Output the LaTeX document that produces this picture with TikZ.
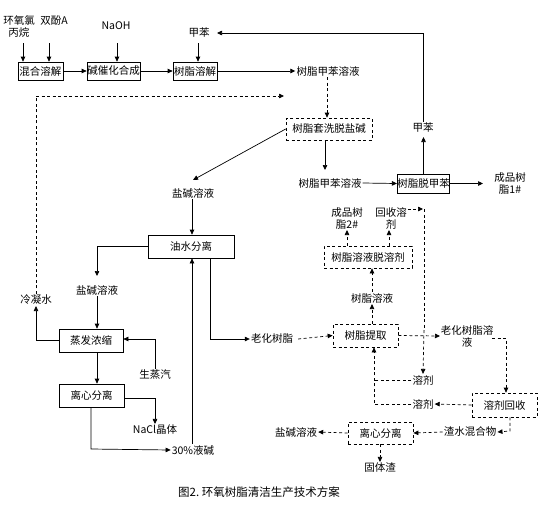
\documentclass[tikz,border=0pt]{standalone}
\usepackage{fontspec}
\setmainfont{Noto Sans CJK SC}
\usetikzlibrary{arrows.meta}
\begin{document}
\begin{tikzpicture}[x=1pt,y=-1pt,
  every node/.style={font=\fontsize{10.5}{12}\selectfont, inner sep=1pt},
  box/.style={draw, line width=0.7pt, inner sep=0pt, minimum height=22pt},
  dbox/.style={box, dash pattern=on 3pt off 2.5pt},
  lbl/.style={align=center},
  ln/.style={line width=0.7pt},
  arr/.style={ln, -{Triangle[length=5pt,width=4.5pt]}},
  dln/.style={ln, dash pattern=on 3pt off 2.5pt},
  darr/.style={arr, dash pattern=on 3pt off 2.5pt}]
\useasboundingbox (0,0) rectangle (554,512);
% ---------- top row ----------
\node[lbl] (e1) at (19,27) {环氧氯\\丙烷};
\node (e2) at (54,21) {双酚A};
\node (naoh) at (116,26) {NaOH};
\node (jb1) at (199,33) {甲苯};
\node[box, minimum width=45pt, minimum height=18pt] (hh) at (40.5,71) {混合溶解};
\node[box, minimum width=53pt, minimum height=18pt] (jc) at (113.5,71) {碱催化合成};
\node[box, minimum width=44pt, minimum height=18pt] (sr) at (195,71) {树脂溶解};
\node (tl1) at (328,71) {树脂甲苯溶液};
\draw[arr] (23,43) -- (hh.north -| 23,0);
\draw[arr] (49,43) -- (hh.north -| 49,0);
\draw[arr] (117,43) -- (jc.north -| 117,0);
\draw[arr] (198,43) -- (sr.north -| 198,0);
\draw[arr] (hh.east) -- (jc.west);
\draw[arr] (jc.east) -- (sr.west);
\draw[arr] (sr.east) -- (tl1.west);
% ---------- washing ----------
\node[dbox, minimum width=86pt] (xb) at (329,129) {树脂套洗脱盐碱};
\draw[darr] (tl1.south -| 327,0) -- (xb.north -| 327,0);
\node (yj1) at (193,193) {盐碱溶液};
\draw[arr] (xb.west) -- (193,180);
\node (tl2) at (330,183) {树脂甲苯溶液};
\draw[arr] (xb.south -| 325,0) -- (325,170);
\node[box, minimum width=51pt, minimum height=19pt] (tj) at (423.5,183.5) {树脂脱甲苯};
\draw[arr] (tl2.east) -- (tj.west);
\node[lbl] (cp1) at (510,183) {成品树\\脂1\#};
\draw[arr] (tj.east) -- (483,183.5);
\node (jb2) at (423,128) {甲苯};
\draw[arr] (tj.north) -- (423.5,137);
\draw[arr] (423.5,122) -- (423.5,33) -- (217,33);
% ---------- left column ----------
\node (lnw) at (36,300) {冷凝水};
\draw[darr] (lnw.north) -- (36,96) -- (284,96);
\node[box, minimum width=86pt, minimum height=23pt] (ys) at (191,246.5) {油水分离};
\draw[arr] (yj1.south -| 192,0) -- (ys.north -| 192,0);
\node (yj2) at (97,290) {盐碱溶液};
\draw[arr] (ys.west) -- (97,246.5) -- (97,276);
\node[box, minimum width=64pt, minimum height=23pt] (zf) at (91,340.5) {蒸发浓缩};
\draw[arr] (yj2.south -| 97,0) -- (zf.north -| 97,0);
\draw[arr] (zf.west) -- (36,340.5) -- (lnw.south);
\node (ssq) at (155,375) {生蒸汽};
\draw[arr] (ssq.north) -- (155,339) -- (zf.east |- 0,339);
\node[box, minimum width=65pt, minimum height=23pt] (lx) at (91.5,395.5) {离心分离};
\draw[arr] (zf.south -| 97,0) -- (lx.north -| 97,0);
\node (nacl) at (155,430) {NaCl晶体};
\draw[arr] (lx.east |- 0,398) -- (155,398) -- (nacl.north);
\node (yk) at (193,450) {30\%液碱};
\draw[arr] (lx.south -| 91,0) -- (91,449) -- (yk.west);
\draw[arr] (yk.north -| 192,0) -- (ys.south -| 192,0);
\node (lh) at (272,339) {老化树脂};
\draw[arr] (ys.south -| 210,0) -- (210,339) -- (lh.west);
% ---------- right side ----------
\node[lbl] (cp2) at (347,218) {成品树\\脂2\#};
\node[lbl] (hs) at (391,218) {回收溶\\剂};
\node[dbox, minimum width=88pt] (tr) at (368,257) {树脂溶液脱溶剂};
\draw[darr] (tr.north -| 347,0) -- (cp2.south -| 347,0);
\draw[darr] (tr.north -| 389,0) -- (hs.south -| 389,0);
\node (sry) at (372,298) {树脂溶液};
\draw[darr] (sry.north) -- (tr.south -| sry.north);
\node[dbox, minimum width=65pt, minimum height=23pt] (tq) at (365.5,335.5) {树脂提取};
\draw[darr] (tq.north -| sry.south) -- (sry.south);
\draw[darr] (lh.east) ++(4,0) -- (tq.west);
\node[lbl] (lhs) at (467,336) {老化树脂溶\\液};
\draw[darr] (tq.east) -- (440,336);
\node (rj1) at (423,380) {溶剂};
\node (rj2) at (423,404) {溶剂};
\draw[darr] (hs.east |- 0,209) -- (423,209);
\draw[dln] (424,209) -- (424,330);
\draw[darr] (424,330) -- (rj1.north);
\node[dbox, minimum width=65pt, minimum height=24pt] (hsj) at (504.5,405) {溶剂回收};
\draw[darr] (492,338) -- (506,338) -- (hsj.north -| 506,0);
\draw[darr] (hsj.west) -- (rj2.east);
\draw[darr] (rj2.west) -- (374,404) -- (tq.south -| 374,0);
\draw[dln] (rj1.west) -- (374,380);
\node (zs) at (470,432) {渣水混合物};
\draw[darr] (hsj.south -| 510,0) -- (510,431) -- (zs.east);
\node[dbox, minimum width=65pt, minimum height=22pt] (lx2) at (380.5,433) {离心分离};
\draw[darr] (zs.west) -- (lx2.east);
\node (yj3) at (296,432) {盐碱溶液};
\draw[darr] (lx2.west) -- (yj3.east);
\node (gtz) at (380,468) {固体渣};
\draw[darr] (lx2.south -| 380,0) -- (gtz.north);
% ---------- caption ----------
\node[font=\fontsize{11.5}{13}\selectfont] (cap) at (259,492) {图2.\ 环氧树脂清洁生产技术方案};
\end{tikzpicture}
\end{document}
